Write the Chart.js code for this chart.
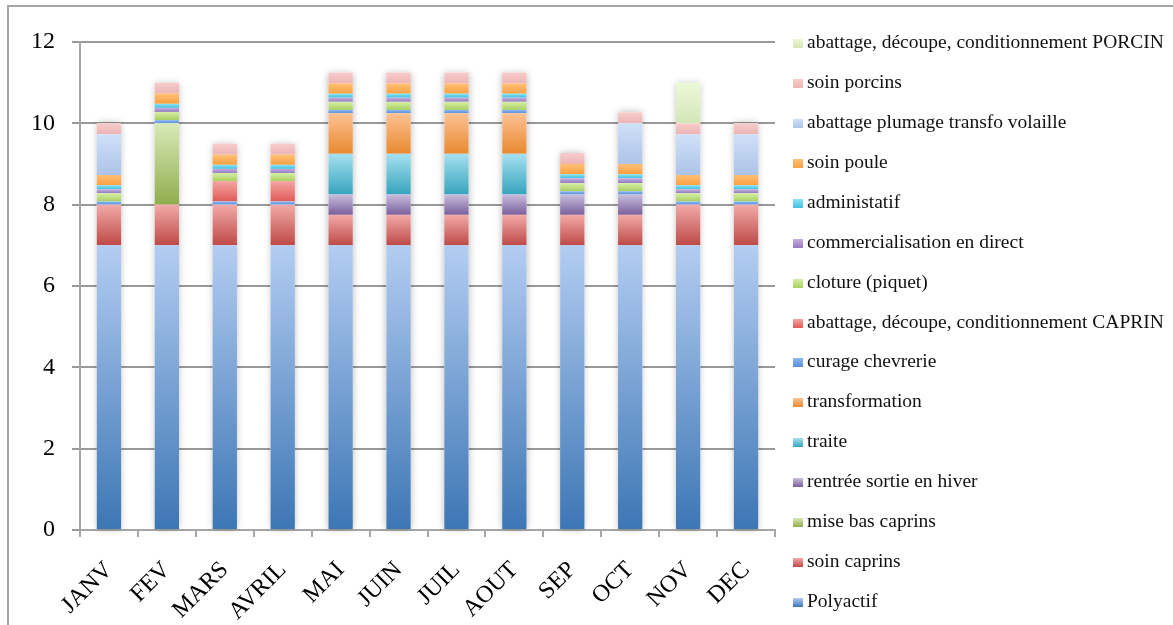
<!DOCTYPE html>
<html>
<head>
<meta charset="utf-8">
<script src="https://cdn.jsdelivr.net/npm/chart.js@4/dist/chart.umd.min.js"></script>
<style>
  body { margin: 0; background: #fff; }
  #wrap { position: relative; width: 1173px; height: 625px; overflow: hidden; }
  #frame { position: absolute; left: 7px; top: 5px; width: 1300px; height: 700px; border-left: 2px solid #a6a6a6; border-top: 2px solid #a6a6a6; }
  #chart { position: absolute; left: 0; top: 0; }
  #legend { position: absolute; left: 0; top: 0; font-family: 'Liberation Serif', serif; font-size: 19.5px; color: #111; }
  .item { position: absolute; left: 793px; white-space: nowrap; height: 24px; line-height: 24px; }
  .box { display: inline-block; width: 10px; height: 9px; margin-right: 4px; vertical-align: 0px; }
</style>
</head>
<body>
<div id="wrap">
  <div id="frame"></div>
  <canvas id="chart" width="1173" height="625"></canvas>
  <div id="legend"></div>
</div>
<script>
const months = ['JANV', 'FEV', 'MARS', 'AVRIL', 'MAI', 'JUIN', 'JUIL', 'AOUT', 'SEP', 'OCT', 'NOV', 'DEC'];
const yTicks = [0, 2, 4, 6, 8, 10, 12];

const polyactif        = [7, 7, 7, 7, 7, 7, 7, 7, 7, 7, 7, 7];
const soinCaprins      = [1, 1, 1, 1, 0.75, 0.75, 0.75, 0.75, 0.75, 0.75, 1, 1];
const miseBas          = [0, 2, 0, 0, 0, 0, 0, 0, 0, 0, 0, 0];
const rentreeSortie    = [0, 0, 0, 0, 0.5, 0.5, 0.5, 0.5, 0.5, 0.5, 0, 0];
const traite           = [0, 0, 0, 0, 1, 1, 1, 1, 0, 0, 0, 0];
const transformation   = [0, 0, 0, 0, 1, 1, 1, 1, 0, 0, 0, 0];
const curage           = [0.08, 0.08, 0.08, 0.08, 0.08, 0.08, 0.08, 0.08, 0.08, 0.08, 0.08, 0.08];
const abattageCaprin   = [0, 0, 0.5, 0.5, 0, 0, 0, 0, 0, 0, 0, 0];
const cloture          = [0.2, 0.2, 0.2, 0.2, 0.2, 0.2, 0.2, 0.2, 0.2, 0.2, 0.2, 0.2];
const commercialisation= [0.1, 0.1, 0.1, 0.1, 0.1, 0.1, 0.1, 0.1, 0.12, 0.12, 0.1, 0.1];
const administatif     = [0.1, 0.1, 0.1, 0.1, 0.1, 0.1, 0.1, 0.1, 0.1, 0.1, 0.1, 0.1];
const soinPoule        = [0.25, 0.25, 0.25, 0.25, 0.25, 0.25, 0.25, 0.25, 0.25, 0.25, 0.25, 0.25];
const volaille         = [1, 0, 0, 0, 0, 0, 0, 0, 0, 1, 1, 1];
const soinPorcins      = [0.27, 0.27, 0.27, 0.27, 0.27, 0.27, 0.27, 0.27, 0.27, 0.27, 0.27, 0.27];
const abattagePorcin   = [0, 0, 0, 0, 0, 0, 0, 0, 0, 0, 1, 0];

// [label, values, top colour, bottom colour]
const series = [
  ['Polyactif', polyactif, '#b3cdf2', '#3c76b4'],
  ['soin caprins', soinCaprins, '#f2aaa8', '#bd4a47'],
  ['mise bas caprins', miseBas, '#d8eab8', '#90ad4c'],
  ['rentrée sortie en hiver', rentreeSortie, '#c9bedf', '#7a5e9c'],
  ['traite', traite, '#a6e0f0', '#36a4bd'],
  ['transformation', transformation, '#fdc295', '#e8892e'],
  ['curage chevrerie', curage, '#8cb8f0', '#5a8fd8'],
  ['abattage, découpe, conditionnement CAPRIN', abattageCaprin, '#f3a6a3', '#e05a57'],
  ['cloture (piquet)', cloture, '#d6eea6', '#a8d060'],
  ['commercialisation en direct', commercialisation, '#c4b0e0', '#9478c0'],
  ['administatif', administatif, '#8ee2f5', '#40c0e0'],
  ['soin poule', soinPoule, '#ffc078', '#fca040'],
  ['abattage plumage transfo volaille', volaille, '#cfe0f8', '#adc4e8'],
  ['soin porcins', soinPorcins, '#f8cccc', '#ebb4b4'],
  ['abattage, découpe, conditionnement PORCIN', abattagePorcin, '#ecf9d6', '#d4e6b8']
];

function segColor(ctx) {
  const s = series[ctx.datasetIndex];
  const chart = ctx.chart;
  if (!chart.chartArea || ctx.type !== 'data') return s[3];
  const i = ctx.dataIndex;
  let start = 0;
  for (let j = 0; j < ctx.datasetIndex; j++) start += series[j][1][i];
  const v = s[1][i];
  if (!v) return s[3];
  const y = chart.scales.y;
  const g = chart.ctx.createLinearGradient(0, y.getPixelForValue(start + v), 0, y.getPixelForValue(start));
  g.addColorStop(0, s[2]);
  g.addColorStop(1, s[3]);
  return g;
}

const datasets = series.map(s => ({
  label: s[0],
  data: s[1],
  backgroundColor: segColor,
  borderWidth: 0
}));

const shadowPlugin = {
  id: 'stackShadow',
  beforeDatasetsDraw(chart) {
    const c = chart.ctx;
    const first = chart.getDatasetMeta(0).data;
    c.save();
    c.shadowColor = 'rgba(0,0,0,0.28)';
    c.shadowBlur = 7;
    c.fillStyle = '#fff';
    first.forEach((el, i) => {
      let top = el.y;
      for (let d = 0; d < series.length; d++) {
        const e = chart.getDatasetMeta(d).data[i];
        if (series[d][1][i] > 0) top = Math.min(top, e.y);
      }
      c.fillRect(el.x - el.width / 2, top, el.width, el.base - top);
    });
    c.restore();
  }
};

const serif = "'Liberation Serif', serif";

new Chart(document.getElementById('chart').getContext('2d'), {
  type: 'bar',
  data: { labels: months, datasets: datasets },
  plugins: [shadowPlugin],
  options: {
    responsive: false,
    animation: false,
    layout: { padding: { top: 42, right: 398, left: 0, bottom: 0 } },
    plugins: { legend: { display: false }, tooltip: { enabled: false } },
    datasets: { bar: { categoryPercentage: 1, barPercentage: 0.42 } },
    scales: {
      x: {
        stacked: true,
        afterFit(scale) { scale.height = 95; },
        grid: { drawOnChartArea: false, offset: true, color: '#a6a6a6', lineWidth: 2, tickLength: 7 },
        border: { color: '#a6a6a6', width: 2 },
        ticks: { color: '#000', font: { family: serif, size: 24 }, minRotation: 45, maxRotation: 45, padding: 19 }
      },
      y: {
        stacked: true,
        min: 0,
        max: 12,
        afterFit(scale) { scale.width = 80; },
        afterBuildTicks(scale) { scale.ticks = yTicks.map(v => ({ value: v })); },
        grid: { color: '#999', lineWidth: 2, tickLength: 8 },
        border: { color: '#a6a6a6', width: 2 },
        ticks: { color: '#000', font: { family: serif, size: 24 }, padding: 17 }
      }
    }
  }
});

// legend, top item = last series
const legend = document.getElementById('legend');
series.slice().reverse().forEach((s, k) => {
  const row = document.createElement('div');
  row.className = 'item';
  row.style.top = (42 + k * 39.93 - 12) + 'px';
  const box = document.createElement('span');
  box.className = 'box';
  box.style.background = 'linear-gradient(' + s[2] + ',' + s[3] + ')';
  row.appendChild(box);
  row.appendChild(document.createTextNode(s[0]));
  legend.appendChild(row);
});
</script>
</body>
</html>
